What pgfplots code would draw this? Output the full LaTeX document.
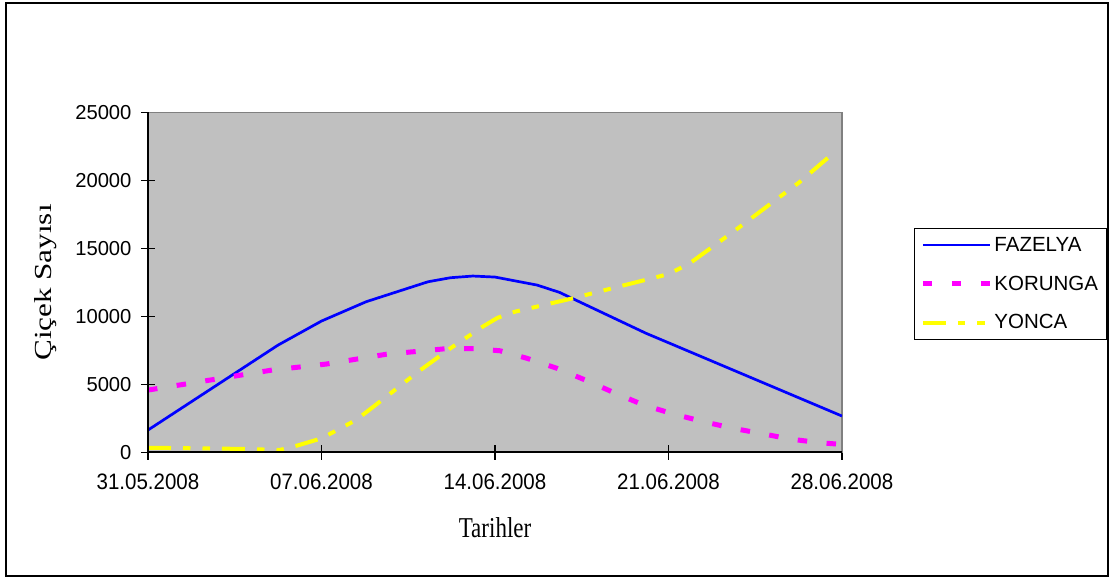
\documentclass[border=0pt]{standalone}
\usepackage{pgfplots}
\pgfplotsset{compat=1.18}
\usepackage{fontspec}
\setmainfont{Liberation Serif}
\newfontfamily\arial{Liberation Sans}
\definecolor{plotgray}{HTML}{C0C0C0}
\definecolor{bordergray}{HTML}{808080}
\definecolor{fazblue}{HTML}{0000FF}
\definecolor{kormag}{HTML}{FF00FF}
\definecolor{yonyel}{HTML}{FFFF00}
\newcommand{\dl}[1]{\scalebox{1}[1.09]{#1}}
\begin{document}
\begin{tikzpicture}
\useasboundingbox (-148pt,-125.5pt) rectangle (966pt,452.5pt);
\draw[line width=2pt] (-142pt,-123.5pt) rectangle (960pt,449pt);
\begin{axis}[
 at={(0pt,0pt)}, anchor=south west,
 scale only axis, width=694pt, height=340pt,
 xmin=0, xmax=28, ymin=0, ymax=25000,
 axis background/.style={fill=plotgray},
 axis line style={draw=bordergray, line width=1.5pt},
 xtick={0,7,14,21,28},
 xticklabels={\dl{31.05.2008},\dl{07.06.2008},\dl{14.06.2008},\dl{21.06.2008},\dl{28.06.2008}},
 ytick={0,5000,10000,15000,20000,25000},
 scaled y ticks=false,
 tick pos=left, tick align=center, major tick length=14pt,
 tick style={black, line width=1.5pt},
 /pgf/number format/assume math mode=true,
 /pgf/number format/1000 sep={},
 xticklabel style={font=\arial\fontsize{20.5}{24}\selectfont, yshift=-11pt},
 yticklabel style={font=\arial\fontsize{20.2}{24}\selectfont, xshift=-6pt},
 xlabel={\scalebox{1}[1.25]{Tarihler}},
 xlabel style={at={(axis description cs:0.5,-0.2206)}, anchor=center, font=\fontsize{23}{26}\selectfont},
 ylabel={\scalebox{1.27}[1]{Çiçek Sayısı}},
 ylabel style={at={(axis description cs:-0.1477,0.5)}, anchor=center, font=\fontsize{24.5}{26}\selectfont},
 legend style={at={(axis description cs:1.1037,0.6612)}, anchor=north west,
   draw=black, line width=1pt, fill=white,
   font=\arial\fontsize{20.5}{24}\selectfont,
   inner xsep=6pt, inner ysep=7pt, row sep=19pt,
   nodes={inner sep=2pt}},
 legend cell align=left,
 legend image code/.code={\draw[#1] (0pt,0pt) -- (67pt,0pt);},
]
\addplot[fazblue, line width=2.7pt] coordinates {
(0,1650) (5.25,7900) (7,9665) (8.8,11085) (11.3,12555) (12.2,12850) (13.1,12975) (14,12900)
(15.7,12310) (16.6,11775) (20.1,8760) (21,8070) (28,2680)};
\addlegendentry{FAZELYA}
\addplot[kormag, line width=5pt, dash pattern=on 9.5pt off 19.5pt] coordinates {
(0,4590) (5,6060) (7.2,6505) (9.6,7220) (12,7630) (13.2,7630) (14.2,7480) (15.3,6920)
(16.5,6190) (17.8,5210) (18.8,4400) (20,3490) (21.2,2830) (22.4,2270) (23.6,1780)
(24.7,1410) (25.9,990) (27.1,720) (27.8,620)};
\addlegendentry{KORUNGA}
\addplot[yonyel, line width=4pt, dash pattern=on 23pt off 12pt on 7.5pt off 12pt on 7.5pt off 12pt] coordinates {
(0,350) (4,260) (5.3,180) (6.1,550) (7,1040) (8.4,2390) (9.7,4225) (10.9,5940) (12.2,7660)
(13.5,9250) (14.1,9900) (14.8,10350) (17,11280) (21,13120) (21.85,13900) (23.7,16350)
(26.3,19900) (27.7,22090)};
\addlegendentry{YONCA}
\end{axis}
\draw[black, line width=2pt] (0pt,340pt) -- (0pt,0pt) -- (694pt,0pt);
\end{tikzpicture}
\end{document}
